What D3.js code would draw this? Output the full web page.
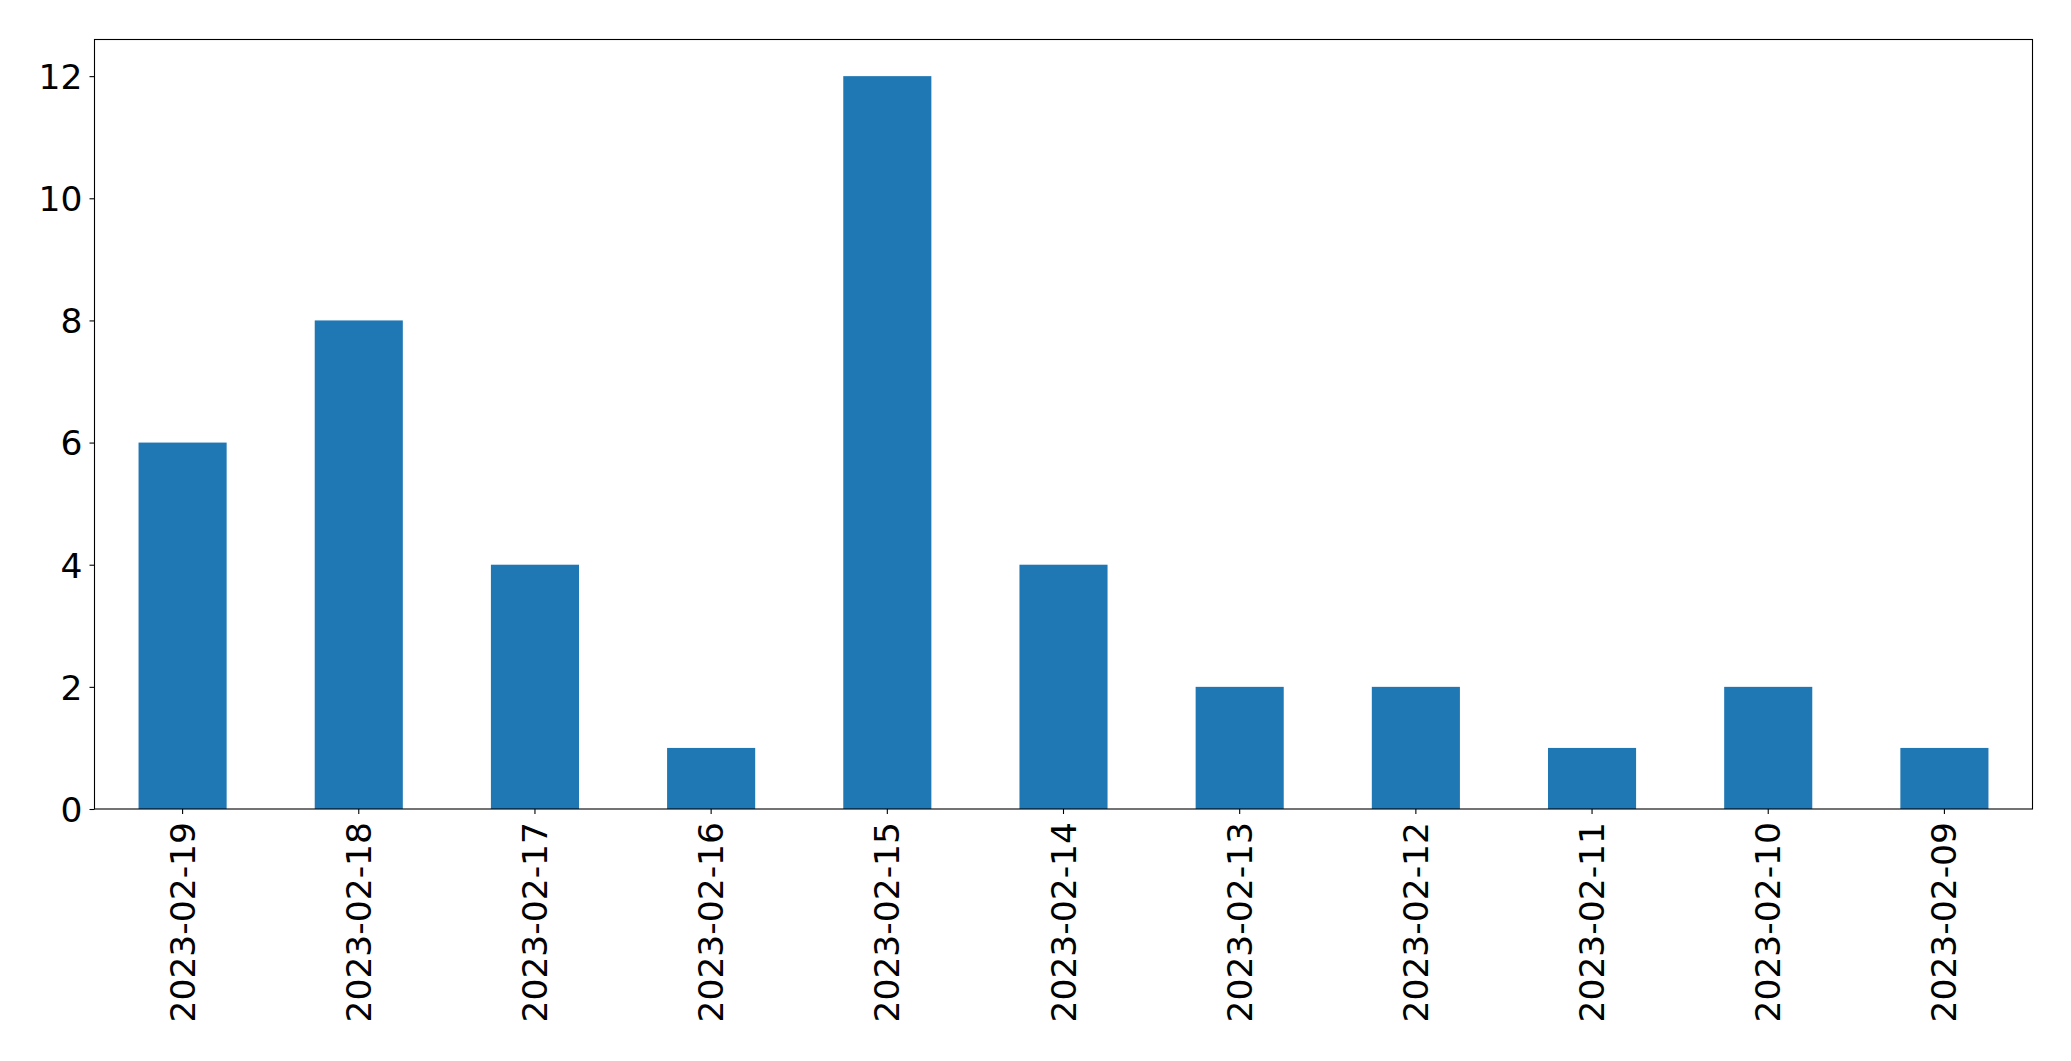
<!DOCTYPE html>
<html>
<head>
<meta charset="utf-8">
<script src="https://cdn.jsdelivr.net/npm/d3@7"></script>
<style>
  html, body { margin: 0; padding: 0; background: #fff; }
  svg { display: block; }
</style>
</head>
<body>
<svg id="chart" width="2071" height="1061"></svg>
<script>
const categories = ["2023-02-19","2023-02-18","2023-02-17","2023-02-16","2023-02-15","2023-02-14","2023-02-13","2023-02-12","2023-02-11","2023-02-10","2023-02-09"];
const values = [6, 8, 4, 1, 12, 4, 2, 2, 1, 2, 1];
const yTicks = [0, 2, 4, 6, 8, 10, 12];

const W = 2071, H = 1061;
const m = {left: 94.5, right: W - 2032.5, top: 39.5, bottom: H - 809};
const svg = d3.select("#chart");
const iw = W - m.left - m.right, ih = H - m.top - m.bottom;
const g = svg.append("g").attr("transform", `translate(${m.left},${m.top})`);

const x = d3.scaleBand().domain(categories).range([0, iw]).paddingInner(0.5).paddingOuter(0.25);
const y = d3.scaleLinear().domain([0, 12.6]).range([ih, 0]);

const font = "DejaVu Sans, sans-serif";
const fs = 34.5;

g.selectAll("rect.bar").data(values).join("rect")
  .attr("class", "bar")
  .attr("x", (d, i) => x(categories[i]))
  .attr("width", x.bandwidth())
  .attr("y", d => y(d))
  .attr("height", d => ih - y(d))
  .attr("fill", "#1f77b4");

const yAxis = g.append("g").call(d3.axisLeft(y).tickValues(yTicks).tickFormat(d3.format("d")).tickSize(5).tickPadding(7));
yAxis.select(".domain").remove();
yAxis.selectAll("text").attr("font-family", font).attr("font-size", fs).attr("fill", "#000").attr("dy", "0.36em");
yAxis.selectAll("line").attr("stroke", "#000").attr("stroke-width", 1.1);

const xAxis = g.append("g").attr("transform", `translate(0,${ih})`)
  .call(d3.axisBottom(x).tickSize(5).tickPadding(0));
xAxis.select(".domain").remove();
xAxis.selectAll("line").attr("stroke", "#000").attr("stroke-width", 1.1);
xAxis.selectAll("text")
  .attr("font-family", font).attr("font-size", fs).attr("fill", "#000")
  .attr("text-anchor", "end")
  .attr("dy", null)
  .attr("y", 0)
  .attr("dominant-baseline", "central")
  .attr("transform", "translate(0,13) rotate(-90)");

g.append("rect").attr("x", 0).attr("y", 0).attr("width", iw).attr("height", ih)
  .attr("fill", "none").attr("stroke", "#000").attr("stroke-width", 1.1);
</script>
</body>
</html>
